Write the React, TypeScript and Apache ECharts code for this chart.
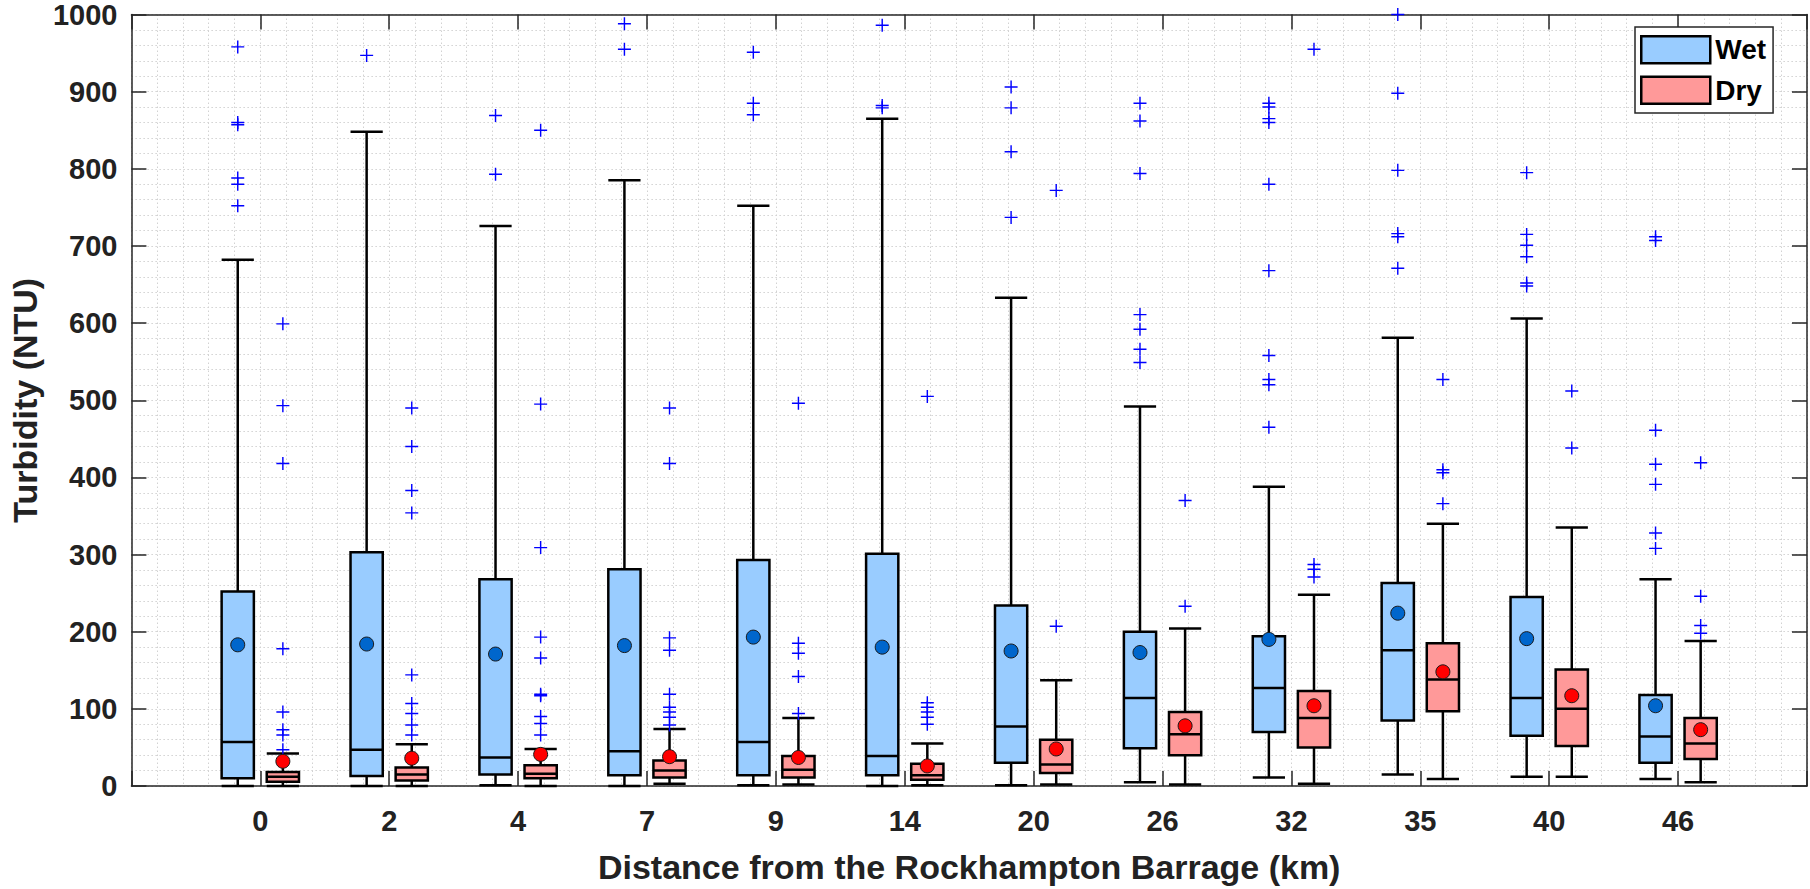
import React, { useEffect, useRef } from "react";
import * as echarts from "echarts";

const categories = ["0", "2", "4", "7", "9", "14", "20", "26", "32", "35", "40", "46"];

// Wet season box statistics (NTU)
const wetLow = [0, 0, 1, 0, 1, 0, 1, 5, 11, 15, 12, 9];
const wetQ1 = [10, 13, 15, 14, 14, 14, 30, 49, 70, 85, 65, 30];
const wetMed = [57, 47, 37, 45, 57, 39, 77, 114, 127, 176, 114, 64];
const wetQ3 = [252, 303, 268, 281, 293, 301, 234, 200, 194, 263, 245, 118];
const wetHigh = [682, 848, 726, 785, 752, 865, 633, 492, 388, 581, 606, 268];
const wetMean = [183, 184, 171, 182, 193, 180, 175, 173, 190, 224, 191, 104];
const wetOutliers = [
  [958, 860, 857, 788, 780, 752],
  [947],
  [869, 793],
  [988, 955],
  [951, 885, 870],
  [986, 882, 879],
  [906, 879, 822, 737],
  [885, 862, 794, 611, 592, 566, 549],
  [885, 880, 865, 860, 780, 668, 558, 527, 520, 465],
  [1000, 898, 798, 716, 712, 671],
  [795, 715, 701, 686, 652, 648],
  [712, 707, 461, 417, 391, 328, 308],
];

// Dry season box statistics (NTU)
const dryLow = [0, 0, 0, 3, 2, 1, 2, 2, 3, 9, 12, 5];
const dryQ1 = [5.5, 7, 10, 11, 11, 8, 17, 40, 50, 97, 52, 35];
const dryMed = [12, 15, 16, 20, 21, 14, 28, 67, 88, 138, 100, 55];
const dryQ3 = [18, 24, 27, 33, 39, 29, 60, 96, 123, 185, 151, 88];
const dryHigh = [42, 54, 48, 74, 88, 55, 137, 204, 248, 340, 335, 188];
const dryMean = [32, 36, 41, 38, 37, 26, 48, 78, 104, 148, 117, 73];
const dryOutliers = [
  [599, 493, 418, 178, 96, 73, 66, 47],
  [490, 440, 383, 354, 144, 107, 94, 79, 66],
  [850, 495, 309, 193, 166, 119, 117, 90, 81, 66],
  [490, 418, 192, 176, 119, 102, 96, 89, 79],
  [496, 185, 172, 142, 94],
  [505, 108, 102, 96, 89, 80],
  [772, 207],
  [370, 233],
  [955, 287, 281, 271],
  [527, 410, 406, 366],
  [512, 438],
  [419, 246, 208, 198],
];

const yTicks = [0, 100, 200, 300, 400, 500, 600, 700, 800, 900, 1000];

const FONT = "'Liberation Sans', Arial, Helvetica, sans-serif";
const WET_FILL = "#99CCFF";
const DRY_FILL = "#FF9999";
const WET_MEAN = "#0066CC";
const DRY_MEAN = "#FF0000";
const AXIS_COLOR = "#262626";
const GRID_COLOR = "#d2d2d2";
const OFFSET = 0.175;
const BOX_W = 0.25;
const LW = 2.5;
const PLUS =
  "path://M-0.11,-1H0.11V-0.11H1V0.11H0.11V1H-0.11V0.11H-1V-0.11H-0.11Z";

function boxRenderer(fill: string) {
  return (params: any, api: any) => {
    const x = api.value(0);
    const pLow = api.coord([x, api.value(1)]);
    const pQ1 = api.coord([x, api.value(2)]);
    const pMed = api.coord([x, api.value(3)]);
    const pQ3 = api.coord([x, api.value(4)]);
    const pHigh = api.coord([x, api.value(5)]);
    const half = api.size([BOX_W, 0])[0] / 2;
    const cx = pMed[0];
    const ls = { stroke: "#000", lineWidth: LW };
    return {
      type: "group",
      children: [
        { type: "line", shape: { x1: cx, y1: pHigh[1], x2: cx, y2: pQ3[1] }, style: ls },
        { type: "line", shape: { x1: cx - half, y1: pHigh[1], x2: cx + half, y2: pHigh[1] }, style: ls },
        { type: "line", shape: { x1: cx, y1: pQ1[1], x2: cx, y2: pLow[1] }, style: ls },
        { type: "line", shape: { x1: cx - half, y1: pLow[1], x2: cx + half, y2: pLow[1] }, style: ls },
        {
          type: "rect",
          shape: { x: cx - half, y: pQ3[1], width: half * 2, height: pQ1[1] - pQ3[1] },
          style: { fill, stroke: "#000", lineWidth: LW },
        },
        { type: "line", shape: { x1: cx - half, y1: pMed[1], x2: cx + half, y2: pMed[1] }, style: ls },
      ],
    };
  };
}

function buildOption() {
  const wetBoxes = categories.map((_, i) => [i + 1 - OFFSET, wetLow[i], wetQ1[i], wetMed[i], wetQ3[i], wetHigh[i]]);
  const dryBoxes = categories.map((_, i) => [i + 1 + OFFSET, dryLow[i], dryQ1[i], dryMed[i], dryQ3[i], dryHigh[i]]);
  const wetMeans = categories.map((_, i) => [i + 1 - OFFSET, wetMean[i]]);
  const dryMeans = categories.map((_, i) => [i + 1 + OFFSET, dryMean[i]]);
  const outliers: number[][] = [];
  wetOutliers.forEach((arr, i) => arr.forEach((v) => outliers.push([i + 1 - OFFSET, v])));
  dryOutliers.forEach((arr, i) => arr.forEach((v) => outliers.push([i + 1 + OFFSET, v])));

  const gridLine = { show: true, lineStyle: { type: [1.5, 2.5], color: GRID_COLOR, width: 1 } };
  const frameLine = { show: true, onZero: false, lineStyle: { color: AXIS_COLOR, width: 1.5 } };
  const tick = { show: true, inside: true, length: 15, lineStyle: { color: AXIS_COLOR, width: 1.5 } };
  const labelStyle = { fontFamily: FONT, fontWeight: "bold", fontSize: 29, color: "#222" };

  return {
    animation: false,
    backgroundColor: "#ffffff",
    grid: { left: 126, right: 2, top: 12, bottom: 100, containLabel: false },
    legend: {
      orient: "vertical",
      left: 1635,
      top: 27,
      itemWidth: 69,
      itemHeight: 27,
      itemGap: 11,
      padding: [8, 7, 8, 5],
      borderColor: AXIS_COLOR,
      borderWidth: 1.5,
      backgroundColor: "#ffffff",
      selectedMode: false,
      textStyle: { fontFamily: FONT, fontWeight: "bold", fontSize: 28, color: "#000" },
      data: [
        { name: "Wet", icon: "rect", itemStyle: { color: WET_FILL, borderColor: "#000", borderWidth: LW } },
        { name: "Dry", icon: "rect", itemStyle: { color: DRY_FILL, borderColor: "#000", borderWidth: LW } },
      ],
    },
    xAxis: [
      {
        type: "value",
        position: "bottom",
        min: 0,
        max: 13,
        interval: 1,
        axisLine: frameLine,
        axisTick: tick,
        axisLabel: {
          ...labelStyle,
          margin: 20,
          formatter: (v: number) => (v >= 1 && v <= categories.length ? categories[v - 1] : ""),
        },
        splitLine: gridLine,
        minorTick: { show: false, splitNumber: 5 },
        minorSplitLine: gridLine,
        name: "Distance from the Rockhampton Barrage (km)",
        nameLocation: "middle",
        nameGap: 64,
        nameTextStyle: { fontFamily: FONT, fontWeight: "bold", fontSize: 34, color: "#222" },
      },
      {
        type: "value",
        position: "top",
        min: 0,
        max: 13,
        interval: 1,
        axisLine: frameLine,
        axisTick: tick,
        axisLabel: { show: false },
        splitLine: { show: false },
      },
    ],
    yAxis: [
      {
        type: "value",
        position: "left",
        min: yTicks[0],
        max: yTicks[yTicks.length - 1],
        interval: 100,
        axisLine: frameLine,
        axisTick: tick,
        axisLabel: { ...labelStyle, margin: 14, formatter: (v: number) => String(v) },
        splitLine: gridLine,
        minorTick: { show: false, splitNumber: 5 },
        minorSplitLine: gridLine,
        name: "Turbidity (NTU)",
        nameLocation: "middle",
        nameGap: 88,
        nameRotate: 90,
        nameTextStyle: { fontFamily: FONT, fontWeight: "bold", fontSize: 34, color: "#222" },
      },
      {
        type: "value",
        position: "right",
        min: yTicks[0],
        max: yTicks[yTicks.length - 1],
        interval: 100,
        axisLine: frameLine,
        axisTick: tick,
        axisLabel: { show: false },
        splitLine: { show: false },
      },
    ],
    series: [
      {
        type: "custom",
        name: "Wet",
        xAxisIndex: 0,
        yAxisIndex: 0,
        silent: true,
        itemStyle: { color: WET_FILL, borderColor: "#000", borderWidth: LW },
        encode: { x: 0, y: [1, 2, 3, 4, 5] },
        data: wetBoxes,
        renderItem: boxRenderer(WET_FILL),
        z: 3,
      },
      {
        type: "custom",
        name: "Dry",
        xAxisIndex: 0,
        yAxisIndex: 0,
        silent: true,
        itemStyle: { color: DRY_FILL, borderColor: "#000", borderWidth: LW },
        encode: { x: 0, y: [1, 2, 3, 4, 5] },
        data: dryBoxes,
        renderItem: boxRenderer(DRY_FILL),
        z: 3,
      },
      {
        type: "scatter",
        name: "Wet mean",
        silent: true,
        symbol: "circle",
        symbolSize: 14,
        itemStyle: { color: WET_MEAN, borderColor: "#1a1a1a", borderWidth: 1, opacity: 1 },
        data: wetMeans,
        z: 5,
      },
      {
        type: "scatter",
        name: "Dry mean",
        silent: true,
        symbol: "circle",
        symbolSize: 14,
        itemStyle: { color: DRY_MEAN, borderColor: "#1a1a1a", borderWidth: 1, opacity: 1 },
        data: dryMeans,
        z: 5,
      },
      {
        type: "scatter",
        name: "Outliers",
        silent: true,
        clip: false,
        symbol: PLUS,
        symbolSize: 13,
        itemStyle: { color: "#0000FF", opacity: 1 },
        data: outliers,
        z: 4,
      },
    ],
  };
}

export default function App() {
  const ref = useRef<HTMLDivElement>(null);
  useEffect(() => {
    if (!ref.current) return;
    const chart = echarts.init(ref.current, undefined, { renderer: "svg" });
    chart.setOption(buildOption() as any);
    return () => chart.dispose();
  }, []);
  return (
    <div
      ref={ref}
      style={{ position: "fixed", left: 0, top: 0, width: 1810, height: 889, background: "#fff" }}
    />
  );
}
